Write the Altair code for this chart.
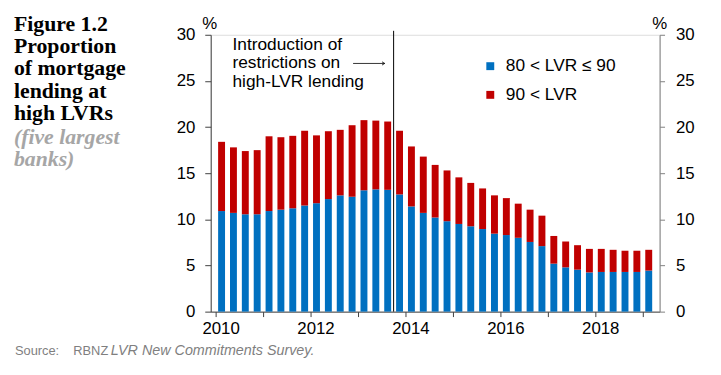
import altair as alt
import pandas as pd

# ---------------- data ----------------
quarters = [f"{y}Q{q}" for y in range(2010, 2020) for q in range(1, 5)][:37]

series_names = ["80 < LVR ≤ 90", "90 < LVR"]
series_colors = ["#0070C0", "#C00000"]

lvr_80_90 = [10.9, 10.7, 10.55, 10.55, 10.9, 11.05, 11.2, 11.5, 11.75, 12.2,
             12.6, 12.45, 13.15, 13.25, 13.2, 12.7, 11.4, 10.7, 10.2, 9.8,
             9.5, 9.25, 8.95, 8.45, 8.3, 8.0, 7.55, 7.1, 5.2, 4.8,
             4.55, 4.25, 4.3, 4.3, 4.3, 4.3, 4.45]
lvr_90_plus = [7.5, 7.1, 6.85, 6.95, 8.1, 7.85, 7.85, 8.1, 7.35, 7.35,
               7.1, 7.75, 7.6, 7.45, 7.4, 6.9, 6.5, 6.1, 5.7, 5.5,
               5.05, 4.7, 4.4, 4.15, 4.0, 3.7, 3.5, 3.3, 3.0, 2.8,
               2.65, 2.55, 2.5, 2.4, 2.3, 2.3, 2.25]

year_ticks = list(range(2010, 2020))
y_ticks = [0, 5, 10, 15, 20, 25, 30]
policy_date = [2013.75]

title_lines = ["Figure 1.2", "Proportion", "of mortgage", "lending at", "high LVRs"]
subtitle_lines = ["(five largest", "banks)"]
annotation_lines = ["Introduction of", "restrictions on", "high-LVR lending"]
source_label = "Source:"
source_org = "RBNZ"
source_title = "LVR New Commitments Survey."

rows = []
for i, ql in enumerate(quarters):
    yr, q = int(ql[:4]), int(ql[-1])
    t = yr + (q - 0.5) / 4
    rows.append(dict(quarter=ql, t=t, series=series_names[0], value=lvr_80_90[i], ord=0))
    rows.append(dict(quarter=ql, t=t, series=series_names[1], value=lvr_90_plus[i], ord=1))
df = pd.DataFrame(rows)

# ---------------- chart ----------------
FONT = "Liberation Sans"
TICK_FS = 17
W, H = 454, 280
x_scale = alt.Scale(domain=[2010, 2019.25], nice=False, zero=False)
y_scale = alt.Scale(domain=[0, 30], nice=False)

bars = alt.Chart(df).mark_bar(size=7).encode(
    x=alt.X("t:Q", scale=x_scale, axis=alt.Axis(
        values=year_ticks, title=None, grid=False, tickSize=5,
        labelExpr="datum.value % 2 == 0 ? format(datum.value, 'd') : ''",
        labelFont=FONT, labelFontSize=TICK_FS, labelColor="black",
        domainColor="#404040", tickColor="#404040", labelOffset=5,
        labelPadding=4, labelFlush=False, labelOverlap=False)),
    y=alt.Y("value:Q", stack="zero", scale=y_scale, axis=alt.Axis(
        values=y_ticks, orient="left", title=None, grid=False, tickSize=6,
        labelFont=FONT, labelFontSize=TICK_FS, labelColor="black",
        domainColor="#404040", tickColor="#404040", labelPadding=10)),
    color=alt.Color("series:N", scale=alt.Scale(domain=series_names, range=series_colors),
                    legend=alt.Legend(title=None, orient="none", legendX=274, legendY=23,
                                      symbolType="square", symbolSize=64, symbolStrokeWidth=0,
                                      labelFont=FONT, labelFontSize=17.5, labelColor="black",
                                      rowPadding=10, labelOffset=7, padding=0)),
    order=alt.Order("ord:Q"),
)

right_axis = alt.Chart(df).mark_bar(size=7, opacity=0).encode(
    x=alt.X("t:Q", scale=x_scale),
    y=alt.Y("value:Q", stack="zero", scale=y_scale, axis=alt.Axis(
        values=y_ticks, orient="right", title=None, grid=False, tickSize=5,
        labelFont=FONT, labelFontSize=TICK_FS, labelColor="black",
        domainColor="#7f7f7f", tickColor="#7f7f7f", labelPadding=11)),
    order=alt.Order("ord:Q"),
)

vline = alt.Chart(pd.DataFrame({"t": policy_date})).mark_rule(color="black", strokeWidth=1).encode(
    x=alt.X("t:Q", scale=x_scale), y=alt.value(-4), y2=alt.value(H))

one = pd.DataFrame({"a": [0]})

title = alt.Chart(one).mark_text(text=title_lines, font="Liberation Serif", fontWeight="bold",
                                 fontSize=22, align="left", baseline="alphabetic",
                                 lineHeight=22.5, color="black").encode(
    x=alt.value(-199), y=alt.value(-4))
subtitle = alt.Chart(one).mark_text(text=subtitle_lines, font="Liberation Serif", fontWeight="bold",
                                    fontStyle="italic", fontSize=22, align="left",
                                    baseline="alphabetic", lineHeight=22.5, color="#A6A6A6").encode(
    x=alt.value(-199), y=alt.value(110))

annot = alt.Chart(one).mark_text(text=annotation_lines, font=FONT, fontSize=17.5, align="left",
                                 baseline="alphabetic", lineHeight=18.5, color="black").encode(
    x=alt.value(22), y=alt.value(15.5))
arrow_line = alt.Chart(one).mark_rule(color="black", strokeWidth=0.8).encode(
    x=alt.value(144), x2=alt.value(176), y=alt.value(29))
arrow_head = alt.Chart(one).mark_point(shape="M-1,-0.6L0,0L-1,0.6", filled=False, size=30,
                                       color="black", strokeWidth=0.8, opacity=1).encode(
    x=alt.value(176), y=alt.value(29))

pct_left = alt.Chart(one).mark_text(text="%", font=FONT, fontSize=17, align="center",
                                    baseline="alphabetic", color="black").encode(
    x=alt.value(-1), y=alt.value(-6))
pct_right = alt.Chart(one).mark_text(text="%", font=FONT, fontSize=17, align="center",
                                     baseline="alphabetic", color="black").encode(
    x=alt.value(W), y=alt.value(-6))

src1 = alt.Chart(one).mark_text(text=source_label, font=FONT, fontSize=13, align="left",
                                baseline="alphabetic", color="#7f7f7f").encode(
    x=alt.value(-198), y=alt.value(324))
src2 = alt.Chart(one).mark_text(text=source_org, font=FONT, fontSize=13, align="left",
                                baseline="alphabetic", color="#7f7f7f").encode(
    x=alt.value(-139), y=alt.value(324))
src3 = alt.Chart(one).mark_text(text=source_title, font=FONT, fontSize=14.5, fontStyle="italic",
                                align="left", baseline="alphabetic", color="#7f7f7f").encode(
    x=alt.value(-101), y=alt.value(324))

chart = alt.layer(
    bars, right_axis, vline, title, subtitle, annot, arrow_line, arrow_head,
    pct_left, pct_right, src1, src2, src3
).resolve_scale(y="independent").properties(
    width=W, height=H,
    padding={"left": 205, "top": 25, "right": 54, "bottom": 62},
    autosize=alt.AutoSizeParams(type="none"),
).configure_view(stroke=None).configure(background="white")

chart.save("out.html", embed_options={"renderer": "svg", "actions": False})
